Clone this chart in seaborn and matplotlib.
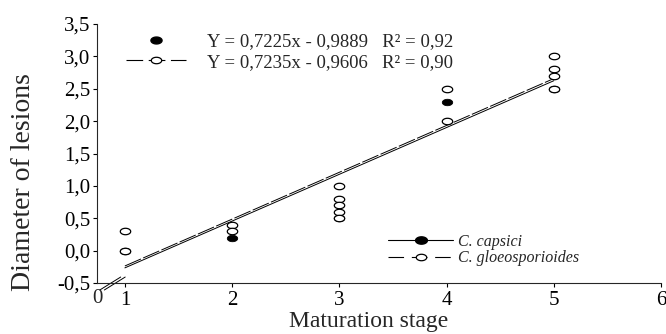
import numpy as np
import pandas as pd
import matplotlib
matplotlib.use('Agg')
import matplotlib.pyplot as plt
import seaborn as sns
from matplotlib.path import Path
from matplotlib.lines import Line2D

# Observed lesion diameters per maturation stage
capsici_stage = [1, 2, 3, 4, 5]
capsici_diam = [0.0, 0.2, 0.5, 2.3, 2.5]
gloeo_stage = [1, 1, 2, 2, 3, 3, 3, 3, 3, 4, 4, 5, 5, 5, 5]
gloeo_diam = [0.3, 0.0, 0.4, 0.3, 1.0, 0.8, 0.7, 0.6, 0.5, 2.5, 2.0, 3.0, 2.8, 2.7, 2.5]

# Regression coefficients (from the figure)
species = ['C. capsici', 'C. gloeosporioides']
slopes = [0.7225, 0.7235]
intercepts = [-0.9889, -0.9606]
r2 = ['0,92', '0,90']
fit_range = [1, 5]

yticks = [-0.5, 0.0, 0.5, 1.0, 1.5, 2.0, 2.5, 3.0, 3.5]
xticks = [1, 2, 3, 4, 5, 6]

sns.set_style('ticks')
plt.rcParams['font.family'] = ['Liberation Serif', 'DejaVu Serif']

# elliptical marker (wider than tall)
t = np.linspace(0, 2 * np.pi, 60)
ellipse = Path(np.column_stack([np.cos(t), 0.62 * np.sin(t)]), closed=True)

fit_rows = []
for sp, m, b in zip(species, slopes, intercepts):
    for x in fit_range:
        fit_rows.append({'species': sp, 'stage': x, 'fit': m * x + b})
fit_df = pd.DataFrame(fit_rows)

fig = plt.figure(figsize=(6.66, 3.34), dpi=100)
ax = fig.add_axes([97 / 666, 1 - 283 / 334, 564 / 666, 259 / 334])

sns.lineplot(data=fit_df, x='stage', y='fit', style='species',
             dashes={species[0]: '', species[1]: (18, 2.5)},
             color='black', lw=0.7, legend=False, ax=ax)

sns.scatterplot(x=capsici_stage, y=capsici_diam, marker=ellipse, s=56,
                color='black', edgecolor='black', linewidth=0.6, ax=ax, zorder=3)
sns.scatterplot(x=gloeo_stage, y=gloeo_diam, marker=ellipse, s=56,
                facecolor='white', edgecolor='black', linewidth=0.9, ax=ax, zorder=4)

ax.set_xlim(0.74, 6.0)
ax.set_ylim(-0.5, 3.5)
ax.set_xticks(xticks)
ax.set_xticklabels([str(x) for x in xticks])
ax.set_yticks(yticks)
ax.set_yticklabels([('%.1f' % v).replace('.', ',') for v in yticks])
sns.despine(ax=ax)
for s in ['left', 'bottom']:
    ax.spines[s].set_linewidth(0.8)
ax.tick_params(direction='out', length=3, width=0.8, pad=2, labelsize=15, colors='black')
ax.tick_params(axis='x', pad=2.5)

ax.set_xlabel('Maturation stage', fontsize=17)
ax.set_ylabel('Diameter of lesions', fontsize=20)
ax.xaxis.set_label_coords(0.482, -0.108)
ax.yaxis.set_label_coords(-0.108, 0.39)

# "0" at the broken origin and break marks
ax.text(0, -0.024, '0', transform=ax.transAxes, ha='center', va='top', fontsize=15)
for dx in [0.0, 0.008]:
    ax.plot([0.005 + dx, 0.042 + dx], [-0.027, 0.023], transform=ax.transAxes,
            color='black', lw=0.7, clip_on=False)

# equation legend
eq_handles = [
    Line2D([], [], marker=ellipse, color='black', markersize=8, linestyle='none'),
    Line2D([], [], marker=ellipse, color='black', markerfacecolor='white',
           markersize=7.5, lw=0.8, dashes=(15, 5), markeredgewidth=0.9),
]
eq_labels = ['Y = %s   R\u00b2 = %s' % (('%.4fx - %.4f' % (m, -b)).replace('.', ','), r)
             for m, b, r in zip(slopes, intercepts, r2)]
leg1 = ax.legend(eq_handles, eq_labels, loc='upper left',
                 bbox_to_anchor=(126 / 666, 1 - 33 / 334), bbox_transform=fig.transFigure,
                 frameon=False, fontsize=13.5, handlelength=3.2, handletextpad=1.1,
                 labelspacing=0.2, borderpad=0, borderaxespad=0)
ax.add_artist(leg1)

sp_handles = [
    Line2D([], [], marker=ellipse, color='black', markersize=8.5, lw=0.8),
    Line2D([], [], marker=ellipse, color='black', markerfacecolor='white',
           markersize=7.5, lw=0.8, dashes=(14, 7), markeredgewidth=0.9),
]
ax.legend(sp_handles, species, loc='upper left',
          bbox_to_anchor=(388 / 666, 1 - 234 / 334), bbox_transform=fig.transFigure,
          frameon=False, prop={'size': 11.5, 'style': 'italic'}, handlelength=4.1,
          handletextpad=0.3, labelspacing=0.02, borderpad=0, borderaxespad=0)

fig.savefig('out.png', dpi=100)
